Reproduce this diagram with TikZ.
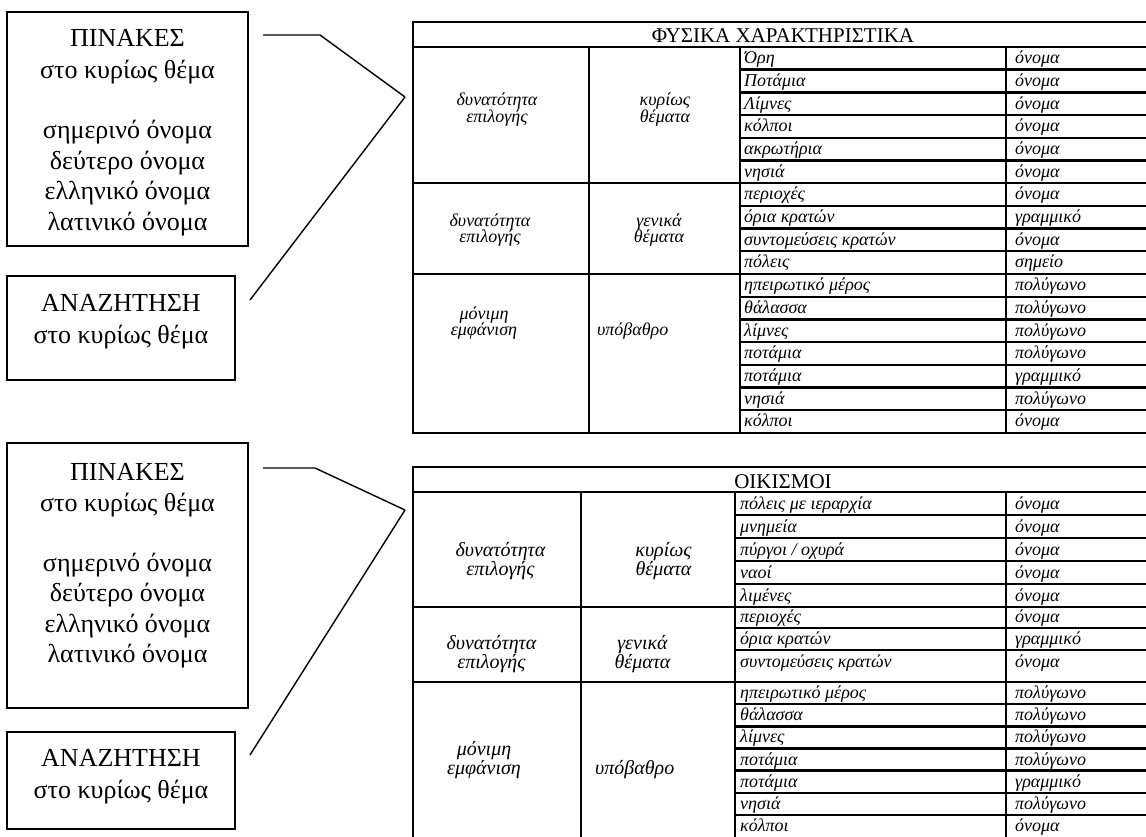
\documentclass[tikz,border=0pt]{standalone}
\usepackage{fontspec}
\setmainfont{Liberation Serif}
\begin{document}
\begin{tikzpicture}[x=1pt,y=-1pt,
  tl/.style={line width=2.4pt,line cap=rect},
  boxst/.style={draw,line width=1.5pt,inner sep=0pt},
  conn/.style={line width=1.4pt},
  lbig/.style={font=\fontsize{26}{31}\selectfont,anchor=base,inner sep=0pt},
  cellt/.style={font=\fontsize{18}{20}\selectfont\itshape,anchor=base west,inner sep=0pt},
  midt/.style={font=\fontsize{18}{20}\selectfont\itshape,anchor=base,inner sep=0pt},
  midtw/.style={font=\fontsize{18}{20}\selectfont\itshape,anchor=base west,inner sep=0pt},
  midb/.style={font=\fontsize{20}{22}\selectfont\itshape,anchor=base,inner sep=0pt},
  midbw/.style={font=\fontsize{20}{22}\selectfont\itshape,anchor=base west,inner sep=0pt},
  titl/.style={font=\fontsize{21}{24}\selectfont,anchor=base,inner sep=0pt}]
\useasboundingbox (0,0) rectangle (1146,837);

% ---------- left boxes, top ----------
\node[boxst,minimum width=241pt,minimum height=234pt] (P1) at (127.5,129) {};
\node[lbig] (P1a) at (127.5,47) {ΠΙΝΑΚΕΣ};
\node[lbig] (P1b) at (127.5,79) {στο κυρίως θέμα};
\node[lbig] (P1c) at (127.5,139) {σημερινό όνομα};
\node[lbig] (P1d) at (127.5,170) {δεύτερο όνομα};
\node[lbig] (P1e) at (127.5,200) {ελληνικό όνομα};
\node[lbig] (P1f) at (127.5,231) {λατινικό όνομα};
\node[boxst,minimum width=228pt,minimum height=104pt] (S1) at (121,328) {};
\node[lbig] (S1a) at (121,311.5) {ΑΝΑΖΗΤΗΣΗ};
\node[lbig] (S1b) at (121,343) {στο κυρίως θέμα};

% ---------- left boxes, bottom ----------
\node[boxst,minimum width=241pt,minimum height=265pt] (P2) at (127.5,575.5) {};
\node[lbig] (P2a) at (127.5,480) {ΠΙΝΑΚΕΣ};
\node[lbig] (P2b) at (127.5,511.5) {στο κυρίως θέμα};
\node[lbig] (P2c) at (127.5,571.5) {σημερινό όνομα};
\node[lbig] (P2d) at (127.5,601.5) {δεύτερο όνομα};
\node[lbig] (P2e) at (127.5,632) {ελληνικό όνομα};
\node[lbig] (P2f) at (127.5,662) {λατινικό όνομα};
\node[boxst,minimum width=228pt,minimum height=97pt] (S2) at (121,780.5) {};
\node[lbig] (S2a) at (121,766.5) {ΑΝΑΖΗΤΗΣΗ};
\node[lbig] (S2b) at (121,798) {στο κυρίως θέμα};

% ---------- connectors ----------
\coordinate (A1) at (263,35);
\coordinate (B1) at (320,35);
\coordinate (M1) at (405,97);
\coordinate (C1) at (250,300);
\draw[conn] (A1) -- (B1) -- (M1);
\draw[conn] (C1) -- (M1);
\coordinate (A2) at (263,468);
\coordinate (B2) at (315,468);
\coordinate (M2) at (405,510);
\coordinate (C2) at (250,755);
\draw[conn] (A2) -- (B2) -- (M2);
\draw[conn] (C2) -- (M2);

% ---------- top table ----------
\draw[tl] (413,22) -- (1146,22);
\draw[tl] (413,47) -- (1146,47);
\draw[tl] (413,22) -- (413,432.9);
\foreach \x in {589,740,1006} \draw[tl] (\x,47) -- (\x,432.9);
\foreach \y in {183.2,274,432.9} \draw[tl] (413,\y) -- (1146,\y);
\foreach \i in {1,...,16} \draw[tl] (740,{47+\i*22.7}) -- (1146,{47+\i*22.7});

\node[titl] (T1) at (783,43) {ΦΥΣΙΚΑ ΧΑΡΑΚΤΗΡΙΣΤΙΚΑ};
\node[midt] (T1g1a) at (497,106) {δυνατότητα};
\node[midt] (T1g1b) at (497,122.5) {επιλογής};
\node[midt] (T1g1c) at (665,106) {κυρίως};
\node[midt] (T1g1d) at (665,122.5) {θέματα};
\node[midt] (T1g2a) at (490,226) {δυνατότητα};
\node[midt] (T1g2b) at (490,242.5) {επιλογής};
\node[midt] (T1g2c) at (659,226) {γενικά};
\node[midt] (T1g2d) at (659,242.5) {θέματα};
\node[midt] (T1g3a) at (484,319) {μόνιμη};
\node[midt] (T1g3b) at (484,335.5) {εμφάνιση};
\node[midtw] (T1g3c) at (597,335.5) {υπόβαθρο};

\foreach \n/\a [count=\i] in {Όρη/όνομα, Ποτάμια/όνομα, Λίμνες/όνομα, κόλποι/όνομα, ακρωτήρια/όνομα, νησιά/όνομα, περιοχές/όνομα, όρια κρατών/γραμμικό, συντομεύσεις κρατών/όνομα, πόλεις/σημείο, ηπειρωτικό μέρος/πολύγωνο, θάλασσα/πολύγωνο, λίμνες/πολύγωνο, ποτάμια/πολύγωνο, ποτάμια/γραμμικό, νησιά/πολύγωνο, κόλποι/όνομα}
{
  \node[cellt] (T1r\i a) at (744,{47+\i*22.7-6}) {\n};
  \node[cellt] (T1r\i b) at (1015,{47+\i*22.7-6}) {\a};
}

% ---------- bottom table ----------
\draw[tl] (413,467) -- (1146,467);
\draw[tl] (413,492) -- (1146,492);
\draw[tl] (413,467) -- (413,837);
\foreach \x in {581,735,1006} \draw[tl] (\x,492) -- (\x,837);
\foreach \y in {607,682} \draw[tl] (413,\y) -- (1146,\y);
\foreach \y in {515,538,561,584,628,650,704.1,726.3,748.4,770.6,792.7,814.9} \draw[tl] (735,\y) -- (1146,\y);

\node[titl] (T2) at (783,488) {ΟΙΚΙΣΜΟΙ};
\node[midb] (T2g1a) at (500.5,556.5) {δυνατότητα};
\node[midb] (T2g1b) at (500.5,575) {επιλογής};
\node[midb] (T2g1c) at (663.5,556.5) {κυρίως};
\node[midb] (T2g1d) at (663.5,575) {θέματα};
\node[midb] (T2g2a) at (491.5,649) {δυνατότητα};
\node[midb] (T2g2b) at (491.5,668) {επιλογής};
\node[midb] (T2g2c) at (642.5,649) {γενικά};
\node[midb] (T2g2d) at (642.5,668) {θέματα};
\node[midb] (T2g3a) at (484,755) {μόνιμη};
\node[midb] (T2g3b) at (484,774) {εμφάνιση};
\node[midbw] (T2g3c) at (595,774) {υπόβαθρο};

\foreach \n/\a/\y [count=\i] in {πόλεις με ιεραρχία/όνομα/509.5, μνημεία/όνομα/532.5, {πύργοι / οχυρά}/όνομα/555.5, ναοί/όνομα/578.5, λιμένες/όνομα/601.5, περιοχές/όνομα/622.5, όρια κρατών/γραμμικό/644.5, συντομεύσεις κρατών/όνομα/667, ηπειρωτικό μέρος/πολύγωνο/698.6, θάλασσα/πολύγωνο/720.8, λίμνες/πολύγωνο/742.9, ποτάμια/πολύγωνο/765.1, ποτάμια/γραμμικό/787.2, νησιά/πολύγωνο/809.4, κόλποι/όνομα/831.5}
{
  \node[cellt] (T2r\i a) at (740,\y) {\n};
  \node[cellt] (T2r\i b) at (1015,\y) {\a};
}
\end{tikzpicture}
\end{document}
